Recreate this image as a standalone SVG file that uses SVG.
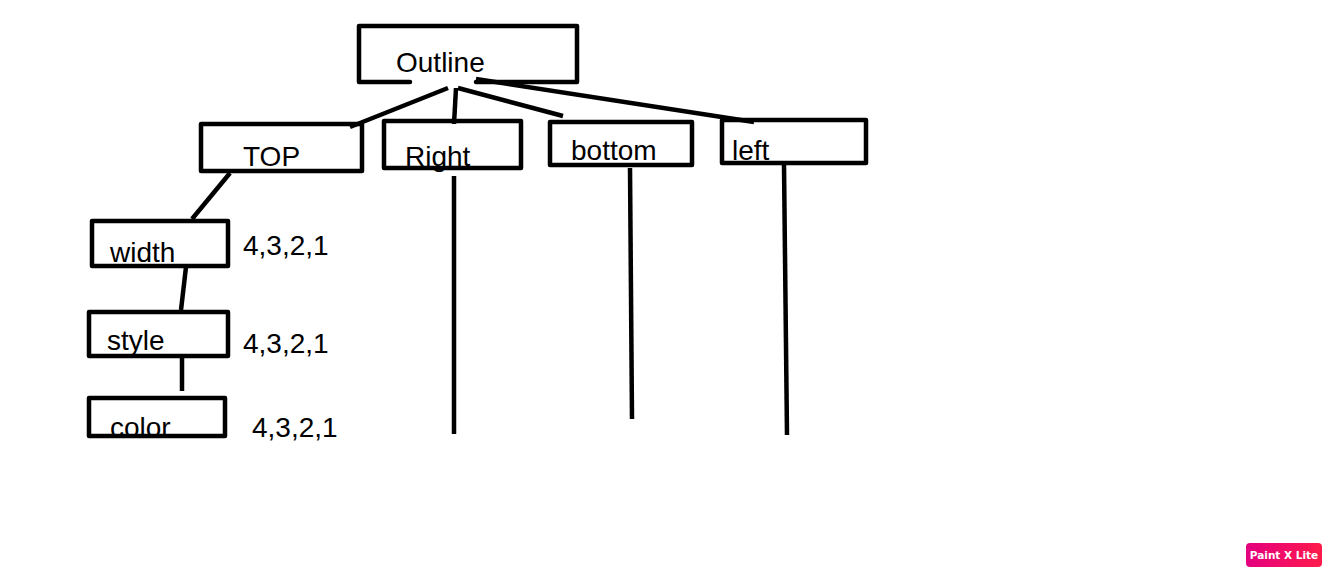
<svg xmlns="http://www.w3.org/2000/svg" width="1336" height="576" viewBox="0 0 1336 576">
<defs>
<style>
.box{fill:none;stroke:#000;stroke-width:4.5;stroke-linejoin:round;stroke-linecap:round}
.ln{fill:none;stroke:#000;stroke-width:4.5;stroke-linecap:butt}
.t{font-family:"Liberation Sans",Arial,sans-serif;font-size:28px;fill:#000}
.wm{font-family:"DejaVu Sans",sans-serif;font-size:10.5px;font-weight:bold;fill:#fff}
</style>
<linearGradient id="g" x1="0" y1="0" x2="1" y2="0">
<stop offset="0" stop-color="#e4007f"/>
<stop offset="1" stop-color="#ff1a4b"/>
</linearGradient>
</defs>
<rect width="1336" height="576" fill="#fff"/>
<g id="connectors">
<line class="ln" x1="448" y1="88" x2="350" y2="127"/>
<line class="ln" x1="456" y1="88" x2="454" y2="124"/>
<line class="ln" x1="458" y1="88" x2="563" y2="116"/>
<line class="ln" x1="476" y1="79" x2="754" y2="122"/>
<line class="ln" x1="230" y1="173" x2="192" y2="219"/>
<line class="ln" x1="186" y1="267" x2="181" y2="310"/>
<line class="ln" x1="182" y1="356" x2="182" y2="391"/>
<line class="ln" x1="454" y1="176" x2="454" y2="434"/>
<line class="ln" x1="630" y1="168" x2="632" y2="419"/>
<line class="ln" x1="784" y1="165" x2="787" y2="435"/>
</g>
<g id="outline">
<path class="box" d="M410 82 H359 V26 H577 V82 H476"/>
<text class="t" x="396" y="72">Outline</text>
</g>
<g id="top">
<rect class="box" x="201" y="124" width="161" height="47"/>
<text class="t" x="243" y="166">TOP</text>
</g>
<g id="right">
<rect class="box" x="384" y="121" width="137" height="47"/>
<text class="t" x="405" y="166">Right</text>
</g>
<g id="bottom">
<rect class="box" x="550" y="122" width="142" height="43"/>
<text class="t" x="571" y="160">bottom</text>
</g>
<g id="left">
<rect class="box" x="722" y="120" width="144" height="43"/>
<text class="t" x="732" y="160">left</text>
</g>
<g id="width">
<rect class="box" x="92" y="221" width="136" height="45"/>
<text class="t" x="110" y="262">width</text>
<text class="t" x="243" y="255">4,3,2,1</text>
</g>
<g id="style">
<rect class="box" x="89" y="312" width="139" height="44"/>
<text class="t" x="107" y="350">style</text>
<text class="t" x="243" y="353">4,3,2,1</text>
</g>
<g id="color">
<rect class="box" x="89" y="398" width="136" height="38"/>
<text class="t" x="110" y="437">color</text>
<text class="t" x="252" y="437">4,3,2,1</text>
</g>
<g id="watermark">
<rect x="1246" y="543" width="76" height="24" rx="4" fill="url(#g)"/>
<text class="wm" x="1284" y="559" text-anchor="middle">Paint X Lite</text>
</g>
</svg>
